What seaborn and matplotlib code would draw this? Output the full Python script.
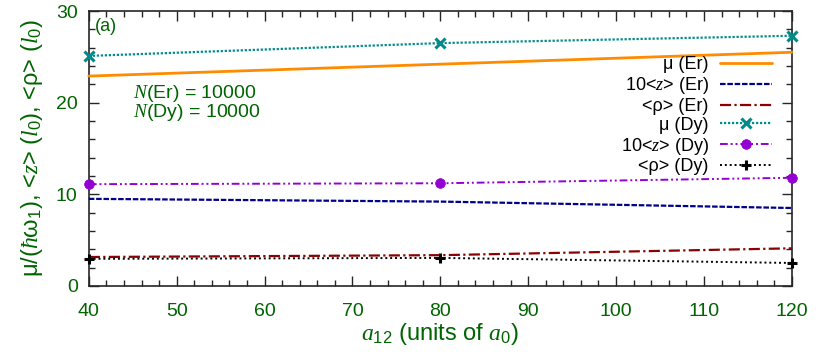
import seaborn as sns
import matplotlib.pyplot as plt
import pandas as pd
import numpy as np
from matplotlib.ticker import MultipleLocator

sns.set_style("ticks")
plt.rcParams['font.family'] = ['Liberation Sans', 'DejaVu Sans']
plt.rcParams['mathtext.fontset'] = 'custom'
plt.rcParams['mathtext.it'] = 'Liberation Serif:italic'
plt.rcParams['mathtext.rm'] = 'Liberation Sans'
plt.rcParams['text.color'] = 'black'

green = "#006400"

# a12 values (units of a0)
a12 = [40, 80, 120]

# Er series
mu_er = [22.9, 24.2, 25.5]
z_er = [9.5, 9.2, 8.5]
rho_er = [3.15, 3.35, 4.1]

# Dy series
mu_dy = [25.1, 26.5, 27.3]
z_dy = [11.1, 11.2, 11.8]
rho_dy = [2.95, 3.05, 2.5]

series = [
    ("μ (Er)", mu_er, "#ff8c00", "-", None, 2.0, 0),
    (r"10<$z$> (Er)", z_er, "#00008b", (0, (2.5, 0.8)), None, 1.6, 0),
    ("<ρ> (Er)", rho_er, "#8b0000", (0, (5, 1.5, 1, 1.5)), None, 1.6, 0),
    ("μ (Dy)", mu_dy, "#008b8b", (0, (1, 0.8)), "x", 1.6, 2.2),
    (r"10<$z$> (Dy)", z_dy, "#9400d3", (0, (4, 1.5, 1, 1.5, 1, 1.5)), "o", 1.4, 0.5),
    ("<ρ> (Dy)", rho_dy, "black", (0, (1, 1.5)), "+", 1.4, 2.2),
]

fig = plt.figure(figsize=(8.3, 3.56), dpi=100)
ax = fig.add_axes([0.107, 0.197, 0.847, 0.772])

for label, vals, color, ls, marker, lw, mew in series:
    df = pd.DataFrame({"a12": a12, "val": vals})
    sns.lineplot(data=df, x="a12", y="val", ax=ax, color=color, linestyle=ls,
                 linewidth=lw, marker=marker, markersize=7, markeredgewidth=mew,
                 markeredgecolor=color, label=label, clip_on=False, zorder=3)

ax.set_xlim(40, 120)
ax.set_ylim(0, 30)
ax.xaxis.set_major_locator(MultipleLocator(10))
ax.xaxis.set_minor_locator(MultipleLocator(2))
ax.yaxis.set_major_locator(MultipleLocator(10))
ax.yaxis.set_minor_locator(MultipleLocator(2))
ax.tick_params(which="both", direction="in", top=True, right=True,
               labelcolor=green, labelsize=14, width=1)
ax.tick_params(axis="x", which="major", length=7, pad=12)
ax.tick_params(axis="y", which="major", length=7, pad=8)
ax.tick_params(which="minor", length=4)
for s in ax.spines.values():
    s.set_linewidth(1.2)

ax.set_xlabel(r"$a_{12}$ (units of $a_0$)", color=green, fontsize=17, labelpad=1)
ax.set_ylabel(r"μ/($\hbar$ω$_1$), <$z$> ($l_0$), <ρ> ($l_0$)",
              color=green, fontsize=17, labelpad=8)

ax.text(0.008, 0.975, "(a)", transform=ax.transAxes, color=green, fontsize=13,
        va="top", ha="left")
ax.text(45.0, 20.0, r"$N$(Er) = 10000" + "\n" + r"$N$(Dy) = 10000",
        color=green, fontsize=14, va="center", ha="left", linespacing=0.85)

leg = ax.legend(loc="upper right", bbox_to_anchor=(0.9716, 0.835), frameon=False,
                markerfirst=False, fontsize=13, handlelength=2.85,
                labelspacing=0.1, borderaxespad=0, borderpad=0,
                handletextpad=0.65)
for t in leg.get_texts():
    t.set_ha("right")
    t.set_color("black")
leg._legend_box.align = "right"

plt.savefig("out.png", dpi=100)
plt.close()
